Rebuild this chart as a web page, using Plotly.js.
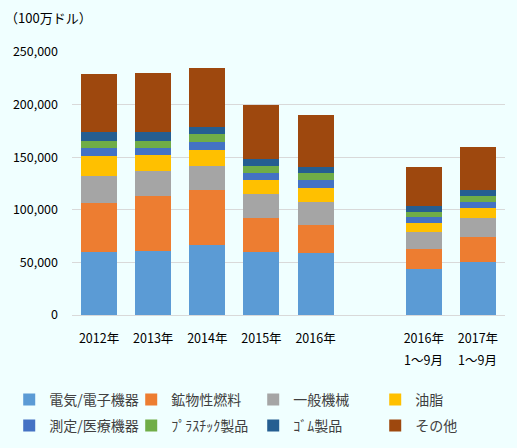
<!DOCTYPE html>
<html>
<head>
<meta charset="utf-8">
<script src="https://cdn.plot.ly/plotly-3.0.1.min.js"></script>
<style>
  html, body { margin: 0; padding: 0; background: #F0FFFF; }
  #graph { width: 517px; height: 448px; }
</style>
</head>
<body>
<div id="graph"></div>
<script>
// 年次カテゴリ(空の1本は間隔用)
var years = ["2012年", "2013年", "2014年", "2015年", "2016年", " ", "2016年1～9月", "2017年1～9月"]
var tickLabels = ["2012年", "2013年", "2014年", "2015年", "2016年", "", "2016年", "2017年"]
// 2行目のラベル(期間)
var subCats = ["2016年1～9月", "2017年1～9月"]
var subLabels = ["1～9月", "1～9月"]

// 品目別(100万ドル)
var denki   = [59600, 60900, 66700, 59600, 58900, null, 43600, 50000]
var kobutsu = [47100, 51900, 51900, 32700, 27000, null, 19200, 24400]
var ippan   = [25000, 23700, 23100, 22400, 21800, null, 16000, 17900]
var yushi   = [19200, 15400, 15400, 13500, 12800, null, 8700, 9600]
var sokutei = [7700, 6800, 7700, 6400, 7700, null, 5800, 5800]
var plastic = [6700, 6700, 7700, 7100, 6400, null, 4800, 5800]
var gomu    = [8900, 8900, 6400, 6400, 5800, null, 5100, 5700]
var sonota  = [54500, 55800, 55800, 51900, 50000, null, 37200, 40400]

var names = ["電気/電子機器", "鉱物性燃料", "一般機械", "油脂",
             "測定/医療機器", "ﾌﾟﾗｽﾁｯｸ製品", "ｺﾞﾑ製品", "その他"]
var series = [denki, kobutsu, ippan, yushi, sokutei, plastic, gomu, sonota]
var colors = ["#5B9BD5", "#ED7D31", "#A5A5A5", "#FFC000",
              "#4472C4", "#70AD47", "#255E91", "#9E480E"]

var data = []
for (var i = 0; i < series.length; i++) {
    data.push({
        x: years,
        y: series[i],
        name: names[i],
        type: 'bar',
        marker: {color: colors[i]},
        // 1行目は legend、2行目は legend2 に分ける
        legend: i < 4 ? 'legend' : 'legend2',
        hoverinfo: 'x+y+name'
    })
}

function legendRow(y) {
    return {
        orientation: 'h',
        x: -0.145,
        xanchor: 'left',
        y: y,
        yanchor: 'middle',
        entrywidth: 77,
        entrywidthmode: 'pixels',
        traceorder: 'normal',
        font: {size: 14, color: '#404040'},
        bgcolor: 'rgba(0,0,0,0)'
    }
}

var annotations = [{
    text: '（100万ドル）',
    xref: 'paper', yref: 'paper',
    x: -0.16, y: 1.13,
    xanchor: 'left', yanchor: 'middle',
    showarrow: false,
    font: {size: 13, color: '#000'}
}]
for (var j = 0; j < subCats.length; j++) {
    annotations.push({
        text: subLabels[j],
        xref: 'x', yref: 'paper',
        x: subCats[j], y: -0.171,
        xanchor: 'center', yanchor: 'middle',
        showarrow: false,
        font: {size: 12.5, color: '#000'}
    })
}

var layout = {
    width: 517,
    height: 448,
    barmode: 'stack',
    bargap: 0.333,
    paper_bgcolor: '#F0FFFF',
    plot_bgcolor: '#F0FFFF',
    font: {family: '"Noto Sans CJK JP", sans-serif', size: 12, color: '#000'},
    margin: {l: 72, r: 12, t: 52, b: 133, autoexpand: false},
    xaxis: {
        type: 'category',
        automargin: false,
        tickvals: years,
        ticktext: tickLabels,
        tickfont: {size: 12.5, color: '#000'},
        ticks: '',
        showline: false,
        ticklabelstandoff: 14
    },
    yaxis: {
        range: [0, 250000],
        dtick: 50000,
        tickformat: ',d',
        automargin: false,
        gridcolor: '#D9D9D9',
        zerolinecolor: '#D9D9D9',
        tickfont: {size: 12.5, color: '#000'},
        ticklabelstandoff: 13
    },
    legend: legendRow(-0.323),
    legend2: legendRow(-0.422),
    annotations: annotations,
    showlegend: true
}

Plotly.newPlot("graph", data, layout, {displayModeBar: false})
</script>
</body>
</html>
